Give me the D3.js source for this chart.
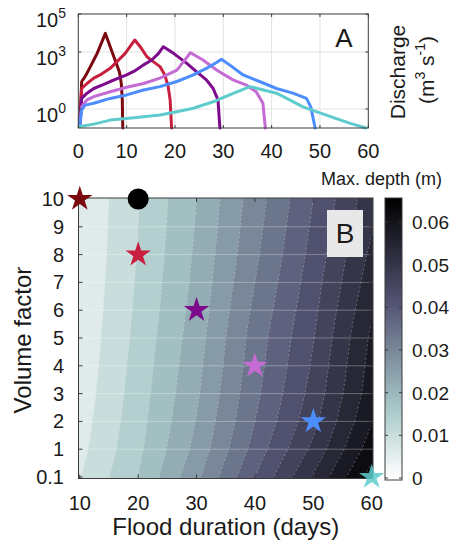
<!DOCTYPE html>
<html><head><meta charset="utf-8">
<script src="https://cdn.jsdelivr.net/npm/d3@7"></script>
<style>
body{margin:0;background:#fff}
svg text{font-family:"Liberation Sans",Arial,Helvetica,sans-serif;fill:#1a1a1a}
</style>
</head><body>
<svg id="chart" width="450" height="548"></svg>
<script>
// ---------------- Panel A data: hydrographs (time in days, discharge in m3/s) ----------------
const seriesNames = ["10 d", "20 d", "30 d", "40 d", "50 d", "60 d"];
const seriesColors = ["#7b0a10", "#c81f3f", "#7d0a8c", "#c56cd4", "#4c8dff", "#5ecccc"];
const hydroTime10 = [0.3,0.7,1.4,2.5,3.2,3.9,4.9,5.6,6.6,7.6,8.5,8.9,9.1,9.2];
const hydroQ10    = [0.12,28,50,170,380,850,3500,9500,1900,380,90,22,3,0.1];
const hydroTime20 = [0.3,0.7,1.8,3.2,4.5,6.6,8,9.7,10.7,11.7,12.8,14.2,15.5,16.9,17.9,18.6,19,19.3];
const hydroQ20    = [0.18,12,22,42,62,138,310,850,1900,4300,1900,560,310,170,62,15,3,0.1];
const hydroTime30 = [0.3,0.7,1.8,3.2,4.9,6.6,8.3,10,11.8,13.5,15.2,16.6,17.6,19.7,22.4,24.5,26.5,27.9,28.9,29.3];
const hydroQ30    = [0.18,3.6,6.8,12,18,28,42,62,105,210,380,850,1900,850,260,91,34,12,3,0.1];
const hydroTime40 = [0.3,0.7,1.8,3.2,6.6,10,13.5,16.9,20.4,23.2,25.8,28.6,32,34.8,36.8,38.2,38.7];
const hydroQ40    = [0.14,1.3,3,4.5,8.1,14,22,42,112,910,380,112,34,18,8.1,2,0.1];
const hydroTime50 = [0.3,0.7,1.4,3.2,6.6,10,13.5,16.9,20.4,23.8,26.5,28.6,29.6,31.3,34.1,37.5,41,44.4,47.2,48.1,49];
const hydroQ50    = [0.12,0.9,1.6,2,3.6,5.5,10,15,28,62,138,280,420,210,62,28,12,6.8,3.6,1.3,0.1];
const hydroTime60 = [0.3,3.2,6.6,10,13.5,16.9,20.4,23.8,27.9,31.3,35.5,41,46.5,51.3,56.1,59.5];
const hydroQ60    = [0.12,0.16,0.26,0.32,0.39,0.48,0.72,1.1,2.4,5.5,15,6.8,1.3,0.48,0.18,0.1];
const timeTicks = [0,10,20,30,40,50,60];
const dischargeTicks = [1,1000,100000];
const dischargeTickExp = ["0","3","5"];

// ---------------- Panel B data: max depth (m) grid ----------------
const durations = [10,20,30,40,50,60];
const volumeFactors = [0.1,1,2,3,4,5,6,7,8,9,10];
// rows follow volumeFactors order, columns follow durations
const maxDepth = [
  [0.0078,0.0161,0.0270,0.0400,0.0524,0.0658],
  [0.0068,0.0151,0.0252,0.0375,0.0490,0.0622],
  [0.0062,0.0145,0.0242,0.0360,0.0468,0.0598],
  [0.0057,0.0140,0.0234,0.0350,0.0455,0.0582],
  [0.0053,0.0136,0.0228,0.0343,0.0446,0.0575],
  [0.0050,0.0132,0.0222,0.0338,0.0438,0.0568],
  [0.0048,0.0128,0.0216,0.0329,0.0430,0.0555],
  [0.0046,0.0125,0.0211,0.0320,0.0422,0.0542],
  [0.0044,0.0122,0.0207,0.0312,0.0414,0.0530],
  [0.0043,0.0120,0.0203,0.0306,0.0407,0.0515],
  [0.0042,0.0118,0.0200,0.0300,0.0400,0.0505]
];
const depthLevels = [0.004,0.008,0.012,0.016,0.020,0.024,0.028,0.032,0.036,0.040,0.044,0.048,0.052,0.056,0.060,0.064];
const colorbarTicks = [0,0.01,0.02,0.03,0.04,0.05,0.06];
const colorbarTickLabels = ["0","0.01","0.02","0.03","0.04","0.05","0.06"];
const markerDurations = [10,20,30,40,50,60];
const markerVolumes = [10,8,6,4,2,0.1];
const referenceDuration = [20];
const referenceVolume = [10];

const svg = d3.select("#chart");
const frameColor = "#3a3a3a";

// ================= PANEL A =================
const xA = d3.scaleLinear().domain([0,60]).range([78.3,368.3]);
const yA = d3.scaleLog().domain([0.1,1e5]).range([128,14]);
const gA = svg.append("g");
gA.selectAll("line.vg").data(timeTicks.slice(1,-1)).join("line")
  .attr("x1",d=>xA(d)).attr("x2",d=>xA(d)).attr("y1",yA(1e5)).attr("y2",yA(0.1))
  .attr("stroke","#e2e2e2").attr("stroke-width",1);
gA.selectAll("line.hg").data(dischargeTicks.slice(0,2)).join("line")
  .attr("x1",xA(0)).attr("x2",xA(60)).attr("y1",d=>yA(d)).attr("y2",d=>yA(d))
  .attr("stroke","#e2e2e2").attr("stroke-width",1);
const hydroTimes = [hydroTime10,hydroTime20,hydroTime30,hydroTime40,hydroTime50,hydroTime60];
const hydroQs = [hydroQ10,hydroQ20,hydroQ30,hydroQ40,hydroQ50,hydroQ60];
const lineA = d3.line().x(d=>xA(d[0])).y(d=>yA(d[1]));
seriesNames.forEach((n,i)=>{
  const pts = hydroTimes[i].map((t,k)=>[t,hydroQs[i][k]]);
  gA.append("path").attr("d",lineA(pts)).attr("fill","none")
    .attr("stroke",seriesColors[i]).attr("stroke-width",3)
    .attr("stroke-linejoin","round").attr("stroke-linecap","round");
});
gA.append("rect").attr("x",xA(0)).attr("y",yA(1e5)).attr("width",xA(60)-xA(0)).attr("height",yA(0.1)-yA(1e5))
  .attr("fill","none").attr("stroke",frameColor).attr("stroke-width",1);
timeTicks.forEach(t=>{
  gA.append("line").attr("x1",xA(t)).attr("x2",xA(t)).attr("y1",yA(0.1)).attr("y2",yA(0.1)-3).attr("stroke",frameColor);
  gA.append("line").attr("x1",xA(t)).attr("x2",xA(t)).attr("y1",yA(1e5)).attr("y2",yA(1e5)+3).attr("stroke",frameColor);
});
dischargeTicks.forEach(q=>{
  gA.append("line").attr("x1",xA(0)).attr("x2",xA(0)+3).attr("y1",yA(q)).attr("y2",yA(q)).attr("stroke",frameColor);
  gA.append("line").attr("x1",xA(60)).attr("x2",xA(60)-3).attr("y1",yA(q)).attr("y2",yA(q)).attr("stroke",frameColor);
});
gA.selectAll("text.xt").data(timeTicks).join("text")
  .attr("x",d=>xA(d)).attr("y",158).attr("text-anchor","middle").attr("font-size",20).text(d=>d);
dischargeTicks.forEach((q,i)=>{
  const t = gA.append("text").attr("x",66).attr("y",yA(q)+13).attr("text-anchor","end").attr("font-size",20);
  t.append("tspan").text("10");
  t.append("tspan").attr("dy",-9).attr("font-size",14).text(dischargeTickExp[i]);
});
gA.append("text").attr("x",344).attr("y",47).attr("text-anchor","middle").attr("font-size",26).text("A");
gA.append("text").attr("transform","translate(405,72) rotate(-90)").attr("text-anchor","middle").attr("font-size",21).text("Discharge");
const ul = gA.append("text").attr("transform","translate(434,70) rotate(-90)").attr("text-anchor","middle").attr("font-size",21);
ul.append("tspan").text("(m");
ul.append("tspan").attr("dy",-9).attr("font-size",14).text("3");
ul.append("tspan").attr("dy",9).text(" s");
ul.append("tspan").attr("dy",-9).attr("font-size",14).text("-1");
ul.append("tspan").attr("dy",9).text(")");

// ================= PANEL B =================
const xB = d3.scaleLinear().domain([10,60]).range([79.8,371.7]);
const rowB = d3.scaleLinear().domain([0,10]).range([477,199]);
const yB = d3.scalePoint().domain(volumeFactors).range([477,199]);
const box = {x0:78.5,x1:373,y0:198,y1:478.5};
const cMax = 0.0656;

function bone(t){
  const hr = Math.min(1,t/0.375);
  const hg = Math.max(0,Math.min(1,(t-0.375)/0.375));
  const hb = Math.max(0,Math.min(1,(t-0.75)/0.25));
  return d3.rgb(255*(7*t+hb)/8, 255*(7*t+hg)/8, 255*(7*t+hr)/8);
}
function depthColor(v){ return bone(1-Math.max(0,Math.min(1,v/cMax))); }

const defs = svg.append("defs");
defs.append("clipPath").attr("id","clipB").append("rect")
  .attr("x",box.x0).attr("y",box.y0).attr("width",box.x1-box.x0).attr("height",box.y1-box.y0);
defs.append("clipPath").attr("id","clipL").append("rect")
  .attr("x",80.6).attr("y",199.8).attr("width",290.4).attr("height",276.4);

const nx = 201, ny = 201;
const field = new Float64Array(nx*ny);
for (let j=0;j<ny;j++){
  const r = 10 - j/(ny-1)*10;
  const r0 = Math.min(9,Math.floor(r)), fr = r-r0;
  for (let i=0;i<nx;i++){
    const c = i/(nx-1)*5;
    const c0 = Math.min(4,Math.floor(c)), fc = c-c0;
    const v = (1-fr)*((1-fc)*maxDepth[r0][c0]+fc*maxDepth[r0][c0+1]) + fr*((1-fc)*maxDepth[r0+1][c0]+fc*maxDepth[r0+1][c0+1]);
    field[j*nx+i] = v;
  }
}
const contours = d3.contours().size([nx,ny]).thresholds(depthLevels)(field);
const proj = d3.geoTransform({point:function(x,y){
  const d = 10 + (x-0.5)/(nx-1)*50;
  const r = 10 - (y-0.5)/(ny-1)*10;
  this.stream.point(xB(d), rowB(r));
}});
const pathB = d3.geoPath(proj);
const gB = svg.append("g");
const gFill = gB.append("g").attr("clip-path","url(#clipB)");
gFill.append("rect").attr("x",box.x0).attr("y",box.y0).attr("width",box.x1-box.x0).attr("height",box.y1-box.y0)
  .attr("fill",depthColor(0.006));
gFill.selectAll("path").data(contours).join("path").attr("d",pathB)
  .attr("fill",d=>depthColor(d.value+0.002)).attr("stroke",d=>depthColor(d.value+0.002)).attr("stroke-width",0.3);
const gLines = gB.append("g").attr("clip-path","url(#clipL)");
gLines.selectAll("path").data(contours.slice(1)).join("path").attr("d",pathB)
  .attr("fill","none").attr("stroke","#ffffff").attr("stroke-opacity",0.4)
  .attr("stroke-width",0.7).attr("stroke-dasharray","2.5,2");
gB.selectAll("line.hg").data(volumeFactors.slice(1,-1)).join("line")
  .attr("x1",box.x0).attr("x2",box.x1).attr("y1",d=>yB(d)).attr("y2",d=>yB(d))
  .attr("stroke","#ffffff").attr("stroke-opacity",0.3).attr("stroke-width",1);
gB.append("rect").attr("x",box.x0).attr("y",box.y0).attr("width",box.x1-box.x0).attr("height",box.y1-box.y0)
  .attr("fill","none").attr("stroke",frameColor).attr("stroke-width",1);
durations.forEach(d=>{
  gB.append("line").attr("x1",xB(d)).attr("x2",xB(d)).attr("y1",box.y1).attr("y2",box.y1-4).attr("stroke",frameColor);
  gB.append("line").attr("x1",xB(d)).attr("x2",xB(d)).attr("y1",box.y0).attr("y2",box.y0+4).attr("stroke",frameColor);
});
volumeFactors.forEach(v=>{
  gB.append("line").attr("x1",box.x0).attr("x2",box.x0+4).attr("y1",yB(v)).attr("y2",yB(v)).attr("stroke",frameColor);
  gB.append("line").attr("x1",box.x1).attr("x2",box.x1-4).attr("y1",yB(v)).attr("y2",yB(v)).attr("stroke",frameColor);
});
gB.selectAll("text.xt").data(durations).join("text")
  .attr("x",d=>xB(d)).attr("y",510).attr("text-anchor","middle").attr("font-size",20).text(d=>d);
gB.selectAll("text.yt").data(volumeFactors).join("text")
  .attr("x",64).attr("y",d=>yB(d)+7).attr("text-anchor","end").attr("font-size",20).text(d=>d);
gB.append("text").attr("x",(box.x0+box.x1)/2).attr("y",535).attr("text-anchor","middle").attr("font-size",24).text("Flood duration (days)");
gB.append("text").attr("transform","translate(31,340) rotate(-90)").attr("text-anchor","middle").attr("font-size",24).text("Volume factor");
gB.append("rect").attr("x",327).attr("y",210).attr("width",36).attr("height",47).attr("fill","#e8e8e8");
gB.append("text").attr("x",345).attr("y",243).attr("text-anchor","middle").attr("font-size",28).text("B");

// colorbar
const cb = d3.scaleLinear().domain([0,0.06]).range([478,222]);
const cbTop = 198, cbBot = 480, cbX = 385, cbW = 17;
const grad = defs.append("linearGradient").attr("id","cbGrad").attr("x1",0).attr("y1",1).attr("x2",0).attr("y2",0);
d3.range(0,41).forEach(k=>{
  const y = cbBot - k/40*(cbBot-cbTop);
  grad.append("stop").attr("offset",(k/40)).attr("stop-color",depthColor(cb.invert(y)));
});
svg.append("rect").attr("x",cbX).attr("y",cbTop).attr("width",cbW).attr("height",cbBot-cbTop)
  .attr("fill","url(#cbGrad)").attr("stroke",frameColor).attr("stroke-width",1);
colorbarTicks.forEach((v,i)=>{
  svg.append("line").attr("x1",cbX).attr("x2",cbX+3).attr("y1",cb(v)).attr("y2",cb(v)).attr("stroke",frameColor);
  svg.append("line").attr("x1",cbX+cbW).attr("x2",cbX+cbW-3).attr("y1",cb(v)).attr("y2",cb(v)).attr("stroke",frameColor);
  svg.append("text").attr("x",412).attr("y",cb(v)+7).attr("font-size",19).text(colorbarTickLabels[i]);
});
svg.append("text").attr("x",321).attr("y",185).attr("font-size",18).text("Max. depth (m)");

// markers
const star = d3.symbol().type(d3.symbolStar).size(200);
svg.selectAll("path.star").data(markerDurations).join("path")
  .attr("d",star).attr("transform",(d,i)=>`translate(${xB(d)},${yB(markerVolumes[i])})`)
  .attr("fill",(d,i)=>seriesColors[i]).attr("fill-opacity",(d,i)=>i===5?0.85:1);
svg.selectAll("circle.ref").data(referenceDuration).join("circle")
  .attr("cx",d=>xB(d)).attr("cy",(d,i)=>yB(referenceVolume[i])).attr("r",10.5).attr("fill","#000");
</script>
</body></html>
